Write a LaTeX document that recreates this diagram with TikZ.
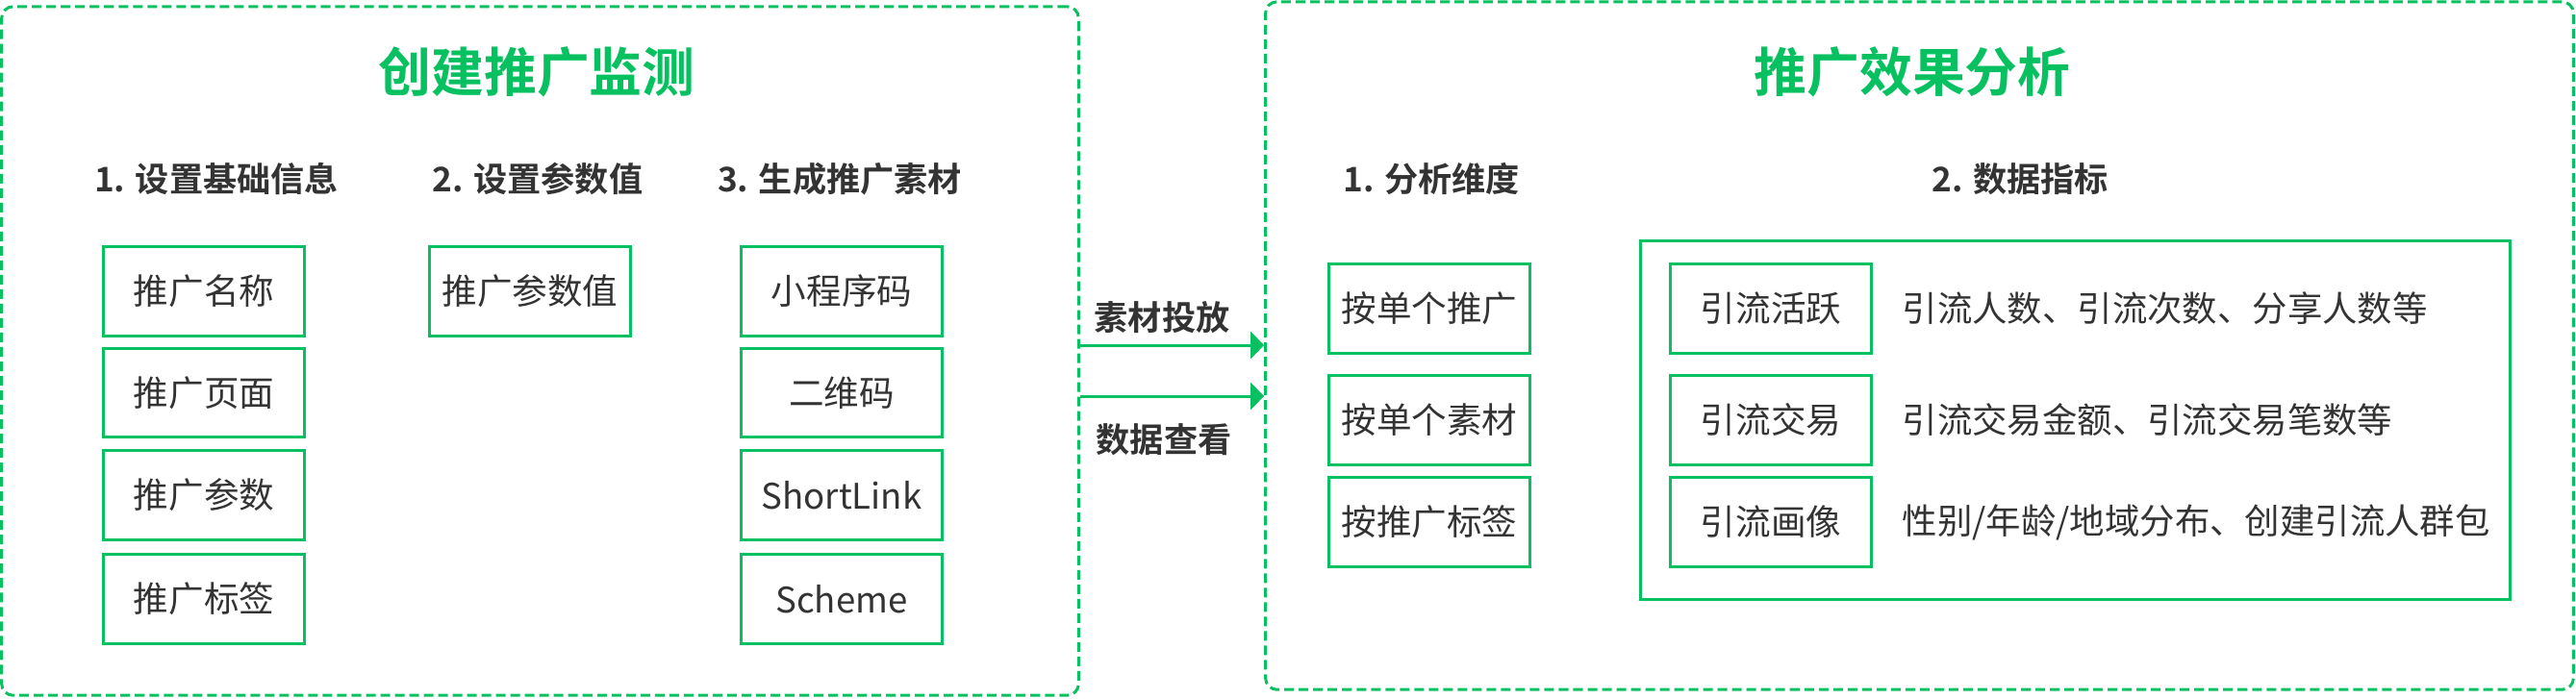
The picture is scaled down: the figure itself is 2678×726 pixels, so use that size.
\documentclass[tikz,border=0pt]{standalone}
\usepackage{fontspec}
\setmainfont{Noto Sans CJK SC}[BoldFont={Noto Sans CJK SC Bold}]
\usetikzlibrary{arrows.meta}

\definecolor{wxgreen}{HTML}{07C160}
\definecolor{txtgray}{HTML}{333333}

\tikzset{
    panel/.style={draw=wxgreen, line width=0.85pt, dash pattern=on 2.85pt off 1.42pt,
        rounded corners=0.12cm, inner sep=0pt},
    item/.style={draw=wxgreen, line width=0.85pt, minimum width=2.09cm, minimum height=0.92cm,
        inner sep=0pt, text=txtgray, font=\fontsize{10.4pt}{12pt}\selectfont},
    desc/.style={anchor=west, inner sep=0pt, text=txtgray, font=\fontsize{10.35pt}{12pt}\selectfont},
    heading/.style={text=txtgray, font=\fontsize{10pt}{12pt}\selectfont\bfseries},
    title/.style={text=wxgreen, font=\fontsize{15.6pt}{18pt}\selectfont\bfseries},
    flow/.style={draw=wxgreen, line width=0.85pt, -{Triangle[length=0.14cm, width=0.28cm]}},
}

\begin{document}
\begin{tikzpicture}[x=0.01cm, y=-0.01cm]
    \useasboundingbox (0,0) rectangle (2678,726);

    % Two dashed panels
    \node[panel, minimum width=11.19cm, minimum height=7.16cm] (create) at (561.5,365) {};
    \node[panel, minimum width=13.59cm, minimum height=7.15cm] (analysis) at (1995.5,359.5) {};

    % Panel titles
    \node[title] (createtitle) at (558,75) {创建推广监测};
    \node[title] (analysistitle) at (1988,75) {推广效果分析};

    % Column headings, left panel
    \node[heading] (head1) at (225,186) {1. 设置基础信息};
    \node[heading] (head2) at (559,186) {2. 设置参数值};
    \node[heading] (head3) at (873,186) {3. 生成推广素材};

    % Column headings, right panel
    \node[heading] (dimhead) at (1488,186) {1. 分析维度};
    \node[heading] (datahead) at (2100,186) {2. 数据指标};

    % Basic info boxes
    \foreach \y/\name/\txt in {303/base1/推广名称, 408.5/base2/推广页面, 515/base3/推广参数, 623/base4/推广标签} {
        \node[item] (\name) at (212,\y) {\txt};
    }

    % Parameter value box
    \node[item] (param) at (551,303) {推广参数值};

    % Material boxes
    \foreach \y/\name/\txt in {303/mat1/小程序码, 408.5/mat2/二维码, 515/mat3/ShortLink, 623/mat4/Scheme} {
        \node[item] (\name) at (875,\y) {\txt};
    }

    % Analysis dimensions
    \foreach \y/\name/\txt in {321/dim1/按单个推广, 437/dim2/按单个素材, 543/dim3/按推广标签} {
        \node[item] (\name) at (1486,\y) {\txt};
    }

    % Data indicators
    \node[draw=wxgreen, line width=0.85pt, minimum width=9.03cm, minimum height=3.72cm, inner sep=0pt] (metrics) at (2157.5,437) {};
    \node[item] (met1) at (1841,321) {引流活跃};
    \node[item] (met2) at (1841,437) {引流交易};
    \node[item] (met3) at (1841,543) {引流画像};
    \node[desc] (met1desc) at (1977,321) {引流人数、引流次数、分享人数等};
    \node[desc] (met2desc) at (1977,437) {引流交易金额、引流交易笔数等};
    \node[desc] (met3desc) at (1977,543) {性别/年龄/地域分布、创建引流人群包};

    % Arrows between panels
    \coordinate (out1) at (create.east |- 0,359);
    \coordinate (out2) at (create.east |- 0,412);
    \draw[flow] (out1) -- (analysis.west |- out1);
    \draw[flow] (out2) -- (analysis.west |- out2);
    \node[heading] (deliver) at (1208,330) {素材投放};
    \node[heading] (inspect) at (1210,457) {数据查看};

\end{tikzpicture}
\end{document}
